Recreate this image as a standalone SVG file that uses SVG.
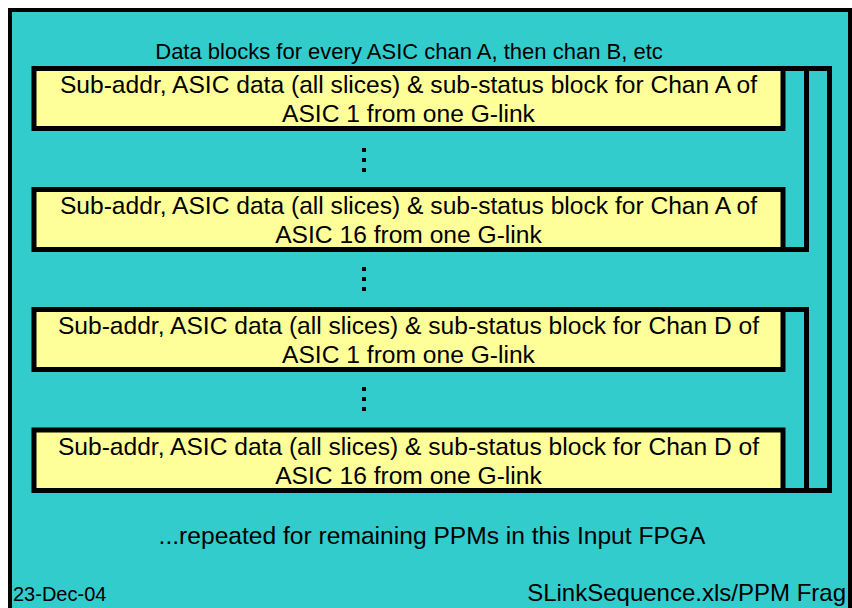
<svg xmlns="http://www.w3.org/2000/svg" width="852" height="608" viewBox="0 0 852 608">
  <style>
    .frame { fill: #33CCCC; stroke: #000; stroke-width: 4; }
    .block { fill: #FFFF99; stroke: #000; stroke-width: 5; }
    .wire { fill: none; stroke: #000; stroke-width: 5; stroke-linecap: square; }
    .t { font-family: "Liberation Sans", Arial, sans-serif; fill: #000; }
    .c { text-anchor: middle; }
    .b { font-size: 24.6px; }
    .dot { fill: #000; }
  </style>

  <rect width="852" height="608" fill="#FFFFFF"/>
  <!-- sheet background -->
  <rect class="frame" x="10" y="10" width="840" height="640"/>

  <text class="t c" x="409" y="59" font-size="22">Data blocks for every ASIC chan A, then chan B, etc</text>

  <!-- stacking brackets to the right of the blocks -->
  <g id="connectors">
    <path class="wire" d="M783,68.5 H829.5 V490.5 H783"/>
    <path class="wire" d="M806.5,68.5 V249.5 H783"/>
    <path class="wire" d="M783,309.5 H806.5 V490.5"/>
  </g>

  <g id="block-a1">
    <rect class="block" x="34" y="68.5" width="749" height="60"/>
    <text class="t c b" x="408.5" y="93">Sub-addr, ASIC data (all slices) &amp; sub-status block for Chan A of</text>
    <text class="t c b" x="408.5" y="122">ASIC 1 from one G-link</text>
  </g>

  <g id="dots-1">
    <rect class="dot" x="362" y="148" width="4" height="4"/>
    <rect class="dot" x="362" y="158" width="4" height="4"/>
    <rect class="dot" x="362" y="168" width="4" height="4"/>
  </g>

  <g id="block-a16">
    <rect class="block" x="34" y="189.5" width="749" height="60"/>
    <text class="t c b" x="408.5" y="214">Sub-addr, ASIC data (all slices) &amp; sub-status block for Chan A of</text>
    <text class="t c b" x="408.5" y="243">ASIC 16 from one G-link</text>
  </g>

  <g id="dots-2">
    <rect class="dot" x="362" y="267" width="4" height="4"/>
    <rect class="dot" x="362" y="277" width="4" height="4"/>
    <rect class="dot" x="362" y="287" width="4" height="4"/>
  </g>

  <g id="block-d1">
    <rect class="block" x="34" y="309.5" width="749" height="60"/>
    <text class="t c b" x="408.5" y="334">Sub-addr, ASIC data (all slices) &amp; sub-status block for Chan D of</text>
    <text class="t c b" x="408.5" y="363">ASIC 1 from one G-link</text>
  </g>

  <g id="dots-3">
    <rect class="dot" x="362" y="387" width="4" height="4"/>
    <rect class="dot" x="362" y="397" width="4" height="4"/>
    <rect class="dot" x="362" y="407" width="4" height="4"/>
  </g>

  <g id="block-d16">
    <rect class="block" x="34" y="430" width="749" height="60.5"/>
    <text class="t c b" x="408.5" y="454.5">Sub-addr, ASIC data (all slices) &amp; sub-status block for Chan D of</text>
    <text class="t c b" x="408.5" y="484">ASIC 16 from one G-link</text>
  </g>

  <text class="t c b" x="432" y="544">...repeated for remaining PPMs in this Input FPGA</text>
  <text class="t" x="13" y="601" font-size="20">23-Dec-04</text>
  <text class="t" x="846" y="601" font-size="24" text-anchor="end">SLinkSequence.xls/PPM Frag</text>
</svg>
